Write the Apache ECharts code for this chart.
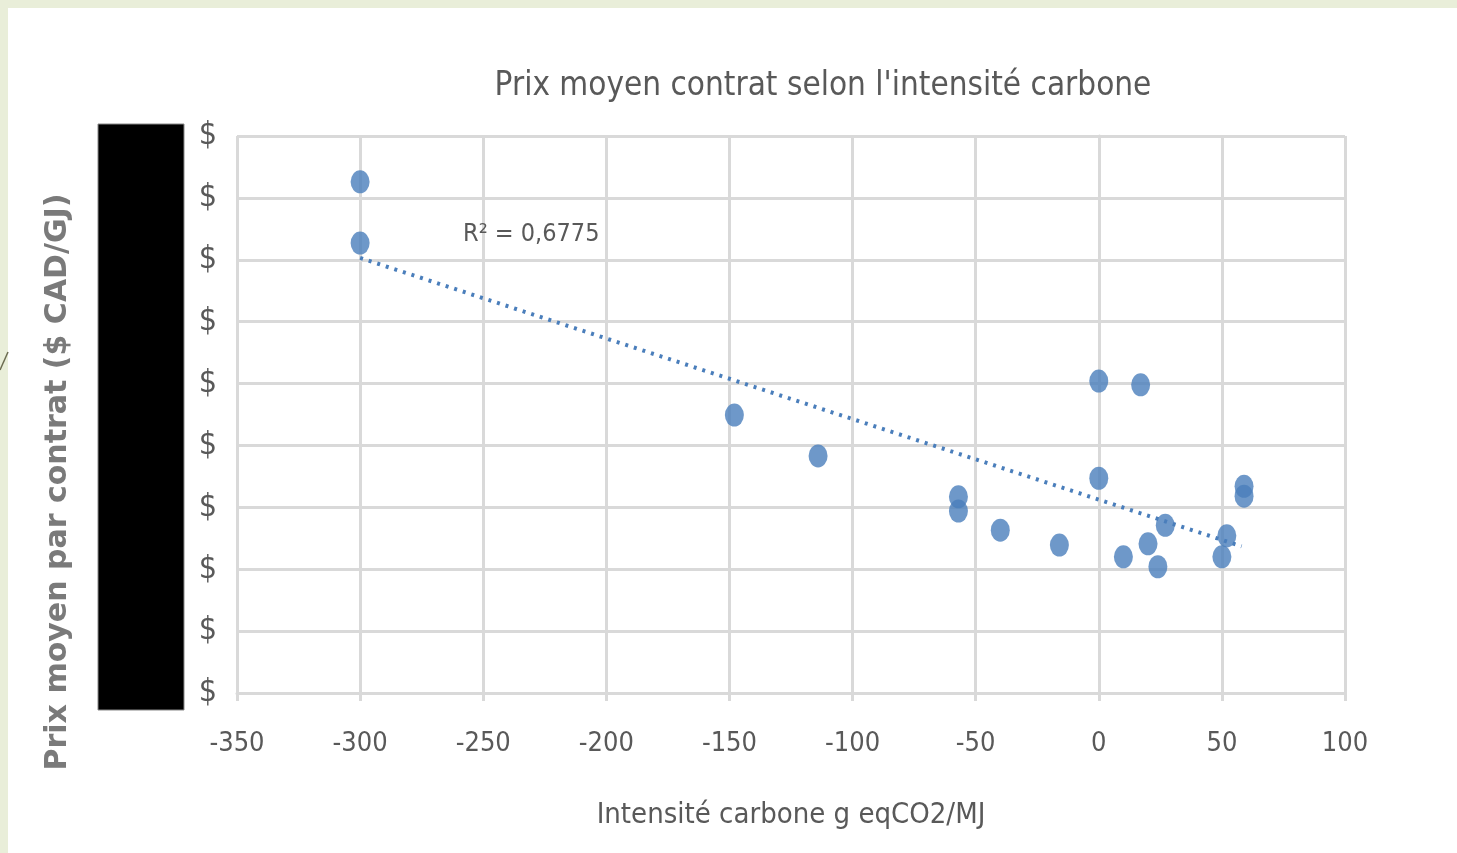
<!DOCTYPE html>
<html>
<head>
<meta charset="utf-8">
<script src="https://cdn.jsdelivr.net/npm/echarts@6/dist/echarts.min.js"></script>
<style>
  html, body { margin: 0; padding: 0; background: #fff; }
  #chart { width: 1457px; height: 853px; }
</style>
</head>
<body>
<div id="chart"></div>
<script>
var chart = echarts.init(document.getElementById('chart'))

// intensité carbone (g eqCO2/MJ)
var intensite = [-300, -300, -148, -114, -57, -57, -40, -16, 0, 17, 0, 10, 20, 24, 27, 52, 50, 59, 59]
// prix moyen (échelle masquée, lignes de grille 0..9)
var prix = [8.26, 7.27, 4.49, 3.83, 3.17, 2.94, 2.63, 2.39, 5.04, 4.98, 3.47, 2.2, 2.41, 2.04, 2.71, 2.54, 2.2, 3.34, 3.18]
// courbe de tendance
var tendanceX = [-300, 58]
var tendanceY = [7.03, 2.37]
var r2Label = 'R² = 0,6775'
var yTitle = 'Prix moyen par contrat ($ CAD/GJ)'

var points = intensite.map(function (x, i) { return [x, prix[i]] })
var tendance = tendanceX.map(function (x, i) { return [x, tendanceY[i]] })

var narrow = '"Liberation Sans Narrow", "DejaVu Sans Condensed", sans-serif'
var grey = '#595959'
var gridColor = '#d9d9d9'

var option = {
  backgroundColor: '#fff',
  animation: false,
  title: {
    text: "Prix moyen contrat selon l'intensité carbone",
    left: 818,
    top: 65,
    textAlign: 'center',
    textStyle: { fontFamily: narrow, fontSize: 33, fontWeight: 'normal', color: grey }
  },
  grid: { left: 237, right: 112, top: 136, bottom: 160 },
  xAxis: {
    type: 'value',
    min: -350,
    max: 100,
    interval: 50,
    name: 'Intensité carbone g eqCO2/MJ',
    nameLocation: 'middle',
    nameGap: 108,
    nameTextStyle: { fontFamily: narrow, fontSize: 29, color: grey },
    axisLine: { show: true, onZero: false, lineStyle: { color: gridColor, width: 3 } },
    axisTick: { show: true, length: 8, lineStyle: { color: gridColor, width: 3 } },
    axisLabel: { fontFamily: narrow, fontSize: 27, color: grey, margin: 37 },
    splitLine: { show: true, lineStyle: { color: gridColor, width: 3 } }
  },
  yAxis: {
    type: 'value',
    min: 0,
    max: 9,
    interval: 1,
    axisLine: { show: true, lineStyle: { color: gridColor, width: 3 } },
    axisTick: { show: true, length: 8, lineStyle: { color: gridColor, width: 3 } },
    axisLabel: { fontFamily: narrow, fontSize: 32, color: grey, margin: 20, formatter: function () { return '$' } },
    splitLine: { show: true, lineStyle: { color: gridColor, width: 3 } }
  },
  series: [
    {
      type: 'scatter',
      data: points,
      symbol: 'circle',
      symbolSize: [19, 23],
      itemStyle: { color: '#4a7ebb' },
      z: 3
    },
    {
      type: 'line',
      data: tendance,
      showSymbol: false,
      symbol: 'none',
      lineStyle: { color: '#4a7ebb', width: 4, type: [3, 6] },
      z: 2
    }
  ],
  graphic: [
    { type: 'rect', shape: { x: 0, y: 0, width: 1457, height: 8 }, style: { fill: '#e9eed9' }, silent: true },
    { type: 'rect', shape: { x: 0, y: 0, width: 8, height: 853 }, style: { fill: '#e9eed9' }, silent: true },
    { type: 'line', shape: { x1: 0, y1: 370, x2: 8, y2: 352 }, style: { stroke: '#6b6b50', lineWidth: 1.5 }, silent: true },
    { type: 'rect', shape: { x: 98, y: 124, width: 86, height: 586 }, style: { fill: '#000', stroke: '#888', lineWidth: 1 }, z: 10, silent: true },
    {
      type: 'text',
      x: 58,
      y: 482,
      rotation: Math.PI / 2,
      style: {
        text: yTitle,
        fontFamily: '"DejaVu Sans", sans-serif',
        fontSize: 30,
        fontWeight: 'bold',
        fill: '#7a7a7a',
        align: 'center',
        verticalAlign: 'middle'
      },
      z: 10
    },
    {
      type: 'text',
      left: 463,
      top: 222,
      style: { text: r2Label, fontFamily: narrow, fontSize: 25, fill: grey },
      z: 10
    }
  ]
}

chart.setOption(option)
</script>
</body>
</html>
